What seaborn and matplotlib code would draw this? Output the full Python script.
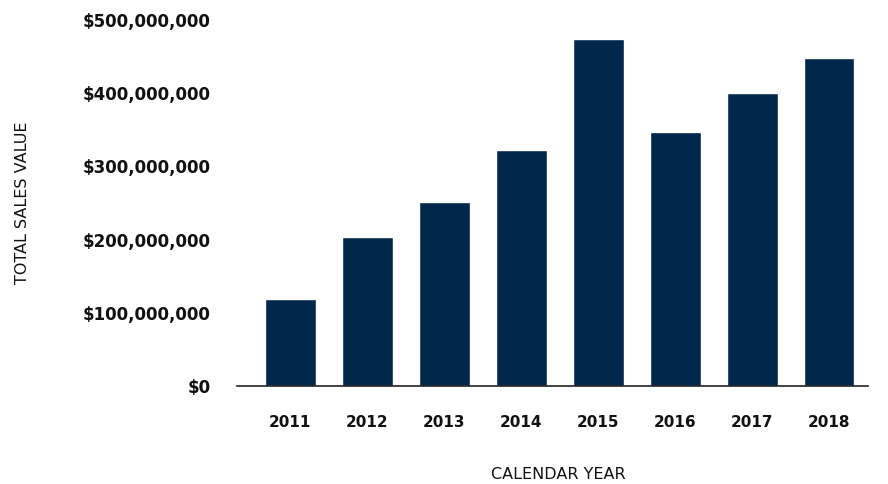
import matplotlib.pyplot as plt
import seaborn as sns
import pandas as pd
from matplotlib.ticker import FuncFormatter

# Datos
anios = ['2011', '2012', '2013', '2014', '2015', '2016', '2017', '2018']
ventas = [119_000_000, 203_000_000, 251_000_000, 323_000_000,
          474_000_000, 347_000_000, 400_000_000, 448_000_000]

df = pd.DataFrame({'Anio': anios, 'Ventas': ventas})

sns.set_style('white')
plt.rcParams['font.family'] = ['DejaVu Sans']

fig = plt.figure(figsize=(8.88, 4.84), dpi=100)
ax = fig.add_axes([0.267, 0.2025, 0.71, 0.7562])

sns.barplot(data=df, x='Anio', y='Ventas', color='#02274d', saturation=1,
            width=0.66, ax=ax)

ax.set_ylim(0, 500_000_000)
ax.set_xlim(-0.69, 7.5)
ax.set_yticks([0, 100_000_000, 200_000_000, 300_000_000, 400_000_000, 500_000_000])
ax.yaxis.set_major_formatter(FuncFormatter(lambda v, p: '${:,.0f}'.format(v)))

for s in ['left', 'right', 'top']:
    ax.spines[s].set_visible(False)
ax.spines['bottom'].set_color('#222222')
ax.spines['bottom'].set_linewidth(1.2)

ax.tick_params(axis='both', length=0, colors='#111111')
ax.tick_params(axis='y', pad=19, labelsize=12)
ax.tick_params(axis='x', pad=21, labelsize=11)
for lbl in ax.get_yticklabels() + ax.get_xticklabels():
    lbl.set_fontweight('semibold')

ax.set_xlabel('CALENDAR YEAR', fontsize=11.5, color='#111111')
ax.xaxis.label.set_va('center')
ax.xaxis.set_label_coords(0.51, -0.243)
ax.set_ylabel('TOTAL SALES VALUE', fontsize=11.5, color='#111111')
ax.yaxis.label.set_va('center')
ax.yaxis.set_label_coords(-0.341, 0.5)

plt.savefig('out.png', dpi=100)
